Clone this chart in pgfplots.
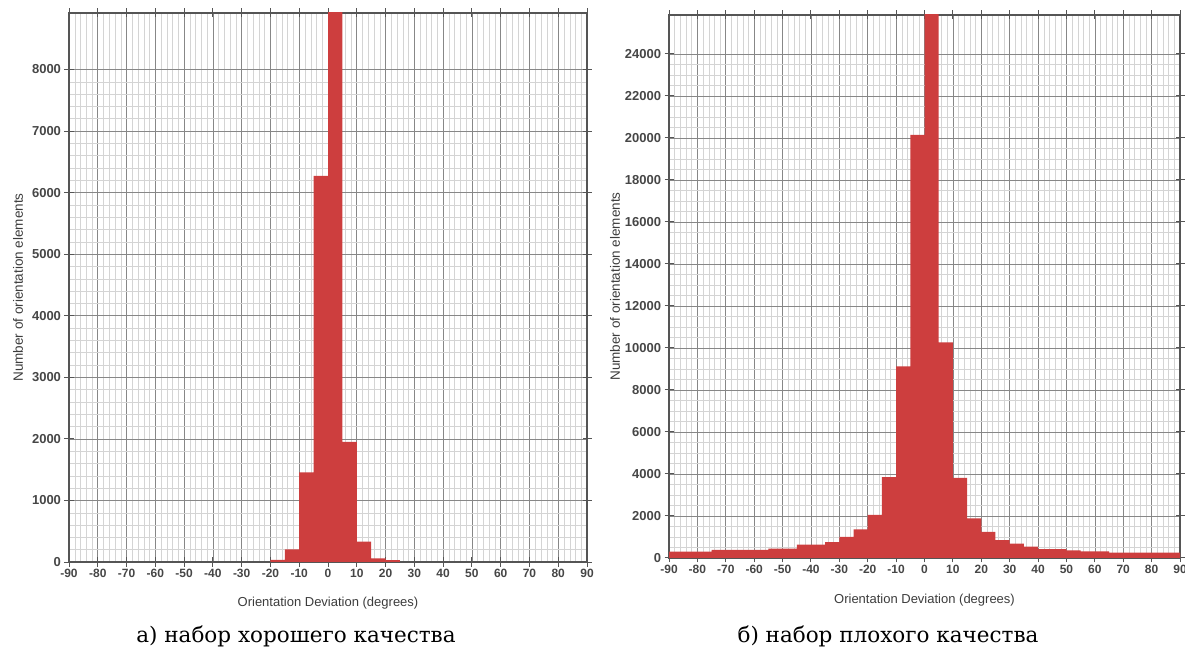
\documentclass[border=0pt]{standalone}
\usepackage{pgfplots}
\pgfplotsset{compat=1.18}
\usepackage{fontspec}
\setmainfont{Liberation Sans}
\newfontfamily\capfont{DejaVu Serif}
\definecolor{barred}{RGB}{205,62,62}
\definecolor{axcol}{RGB}{85,85,85}
\definecolor{majgrid}{RGB}{135,135,135}
\definecolor{mingrid}{RGB}{212,212,212}
\definecolor{tickcol}{RGB}{70,70,70}
\definecolor{labcol}{RGB}{60,60,60}
\begin{document}
\begin{tikzpicture}
\useasboundingbox (0,0) rectangle (1185bp,650bp);
\pgfplotsset{
  myhist/.style={
    scale only axis, anchor=south west,
    xmin=-90, xmax=90, ymin=0,
    xtick={-90,-80,...,90},
    minor x tick num=4,
    scaled y ticks=false,
    grid=both,
    major grid style={draw=majgrid, line width=0.7bp},
    minor grid style={draw=mingrid, line width=0.45bp},
    axis line style={draw=axcol, line width=1.2bp},
    major tick style={draw=axcol, line width=1bp},
    major tick length=9bp, minor tick length=0pt,
    tick align=center,
    ticklabel style={text=tickcol},
    xticklabel style={font=\fontsize{12bp}{14bp}\selectfont\bfseries, yshift=1bp},
    yticklabel style={font=\fontsize{13bp}{15bp}\selectfont\bfseries},
    /pgf/number format/assume math mode=true,
    /pgf/number format/1000 sep={},
    xlabel={Orientation Deviation (degrees)},
    ylabel={Number of orientation elements},
    label style={text=labcol},
    xlabel style={font=\fontsize{13bp}{15bp}\selectfont, anchor=center},
    ylabel style={font=\fontsize{13.5bp}{15bp}\selectfont, anchor=center},
  }
}
\begin{axis}[myhist,
  at={(69bp,88bp)}, width=518bp, height=549bp,
  ymax=8917,
  ytick={0,1000,...,8000},
  minor y tick num=4,
  xlabel style={at={(axis description cs:0.5,-0.0747)}},
  ylabel style={at={(axis description cs:-0.0985,0.5)}},
]
\addplot[ybar interval, fill=barred, draw=none] coordinates {
  (-20,35) (-15,205) (-10,1455) (-5,6270) (0,9500) (5,1950)
  (10,330) (15,60) (20,30) (25,0)
};
\end{axis}
\begin{axis}[myhist,
  at={(669bp,92bp)}, width=511bp, height=543bp,
  ymax=25857,
  ytick={0,2000,...,24000},
  minor y tick num=3,
  xlabel style={at={(axis description cs:0.5,-0.0773)}},
  ylabel style={at={(axis description cs:-0.1057,0.5)}},
]
\addplot[ybar interval, fill=barred, draw=none] coordinates {
  (-90,300) (-85,300) (-80,300) (-75,390) (-70,390) (-65,390) (-60,390)
  (-55,450) (-50,450) (-45,640) (-40,640) (-35,760) (-30,1000) (-25,1360)
  (-20,2050) (-15,3850) (-10,9130) (-5,20150) (0,26500) (5,10270)
  (10,3820) (15,1890) (20,1240) (25,850) (30,690) (35,545) (40,420)
  (45,420) (50,360) (55,310) (60,310) (65,250) (70,250) (75,250)
  (80,250) (85,250) (90,0)
};
\end{axis}
\node[anchor=base, font=\capfont\fontsize{21.5bp}{24bp}\selectfont] at (296bp,8bp) {а) набор хорошего качества};
\node[anchor=base, font=\capfont\fontsize{21.5bp}{24bp}\selectfont] at (888bp,8bp) {б) набор плохого качества};
\end{tikzpicture}
\end{document}
